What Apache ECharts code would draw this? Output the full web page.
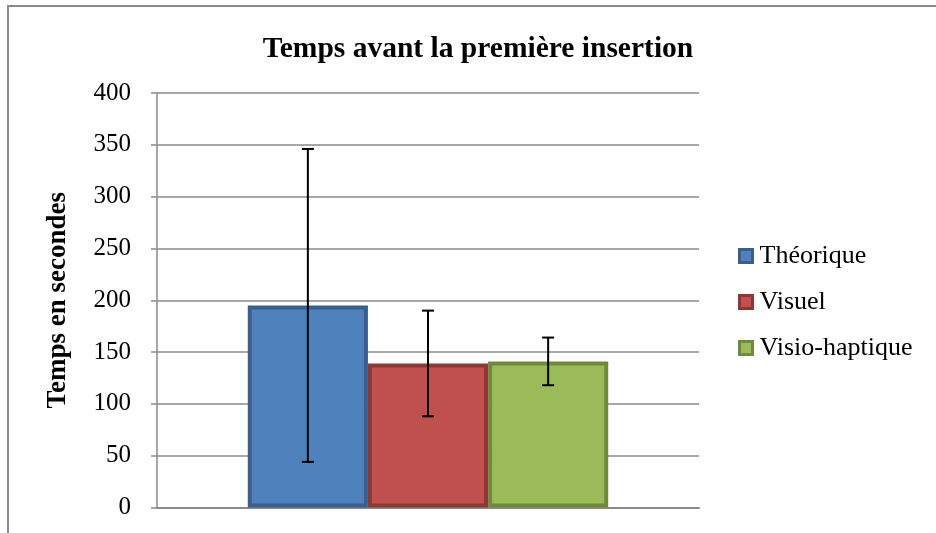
<!DOCTYPE html>
<html>
<head>
<meta charset="utf-8">
<script src="https://cdn.jsdelivr.net/npm/echarts@6/dist/echarts.min.js"></script>
<style>html,body{margin:0;padding:0;background:#fff}#c{width:936px;height:533px}</style>
</head>
<body>
<div id="c"></div>
<script>
var seriesNames = ['Théorique', 'Visuel', 'Visio-haptique'];
var means = [195, 139, 141];
var errors = [151, 51, 23];
var yTicks = {min: 0, max: 400, interval: 50};
var fills = ['#4F81BD', '#C0504D', '#9BBB59'];
var borders = ['#3A5F8C', '#8C3836', '#71893F'];

var serif = '"Liberation Serif", "DejaVu Serif", serif';
var chart = echarts.init(document.getElementById('c'));
var gapPct = 0.335;

var series = [];
seriesNames.forEach(function (n, i) {
  series.push({
    name: n, type: 'bar', data: [means[i]], barGap: '0%', barCategoryGap: (gapPct * 100) + '%',
    itemStyle: {color: fills[i], borderColor: borders[i], borderWidth: 4},
    emphasis: {disabled: true}
  });
});
series.push({
  type: 'custom', silent: true, z: 10,
  data: means.map(function (m, i) { return [0, m, errors[i], i]; }),
  encode: {x: 0, y: 1},
  renderItem: function (params, api) {
    var m = api.value(1), e = api.value(2), idx = api.value(3);
    var band = api.size([1, 0])[0];
    var bw = band * (1 - gapPct) / 3;
    var c = api.coord([0, m]);
    var cx = c[0] + (idx - 1) * bw;
    var top = api.coord([0, m + e])[1];
    var bot = api.coord([0, m - e])[1];
    var st = {stroke: '#000', lineWidth: 2};
    return {type: 'group', children: [
      {type: 'line', shape: {x1: cx, y1: top, x2: cx, y2: bot}, style: st},
      {type: 'line', shape: {x1: cx - 6, y1: top, x2: cx + 6, y2: top}, style: st},
      {type: 'line', shape: {x1: cx - 6, y1: bot, x2: cx + 6, y2: bot}, style: st}
    ]};
  }
});

chart.setOption({
  animation: false,
  backgroundColor: '#fff',
  graphic: [{type: 'polyline', shape: {points: [[8, 540], [8, 6], [940, 6]]}, style: {stroke: '#8a8a8a', lineWidth: 2, fill: null}}],
  title: {
    text: 'Temps avant la première insertion', left: 473, top: 29, textAlign: 'center',
    textStyle: {fontFamily: serif, fontWeight: 'bold', fontSize: 29.5, color: '#000'}
  },
  legend: {
    orient: 'vertical', left: 733, top: 238, itemGap: 20, itemWidth: 13, itemHeight: 13,
    icon: 'rect', data: seriesNames,
    itemStyle: {borderWidth: 3},
    textStyle: {fontFamily: serif, fontSize: 26, color: '#000', padding: [0, 0, 0, 2]}
  },
  grid: {left: 157, right: 237, top: 93, bottom: 25.5, containLabel: false},
  xAxis: {
    type: 'category', data: [''],
    axisLine: {show: true, lineStyle: {color: '#8a8a8a', width: 2}},
    axisTick: {show: false}, axisLabel: {show: false}
  },
  yAxis: {
    type: 'value', min: yTicks.min, max: yTicks.max, interval: yTicks.interval,
    name: 'Temps en secondes', nameLocation: 'middle', nameGap: 85, nameRotate: 90,
    nameTextStyle: {fontFamily: serif, fontWeight: 'bold', fontSize: 27, color: '#000'},
    axisLine: {show: true, lineStyle: {color: '#8a8a8a', width: 1.5}},
    axisTick: {show: true, length: 6, lineStyle: {color: '#8a8a8a', width: 1.5}},
    axisLabel: {fontFamily: serif, fontSize: 25, color: '#000', margin: 26},
    splitLine: {lineStyle: {color: '#8a8a8a', width: 1.5}}
  },
  series: series
});
</script>
</body>
</html>
